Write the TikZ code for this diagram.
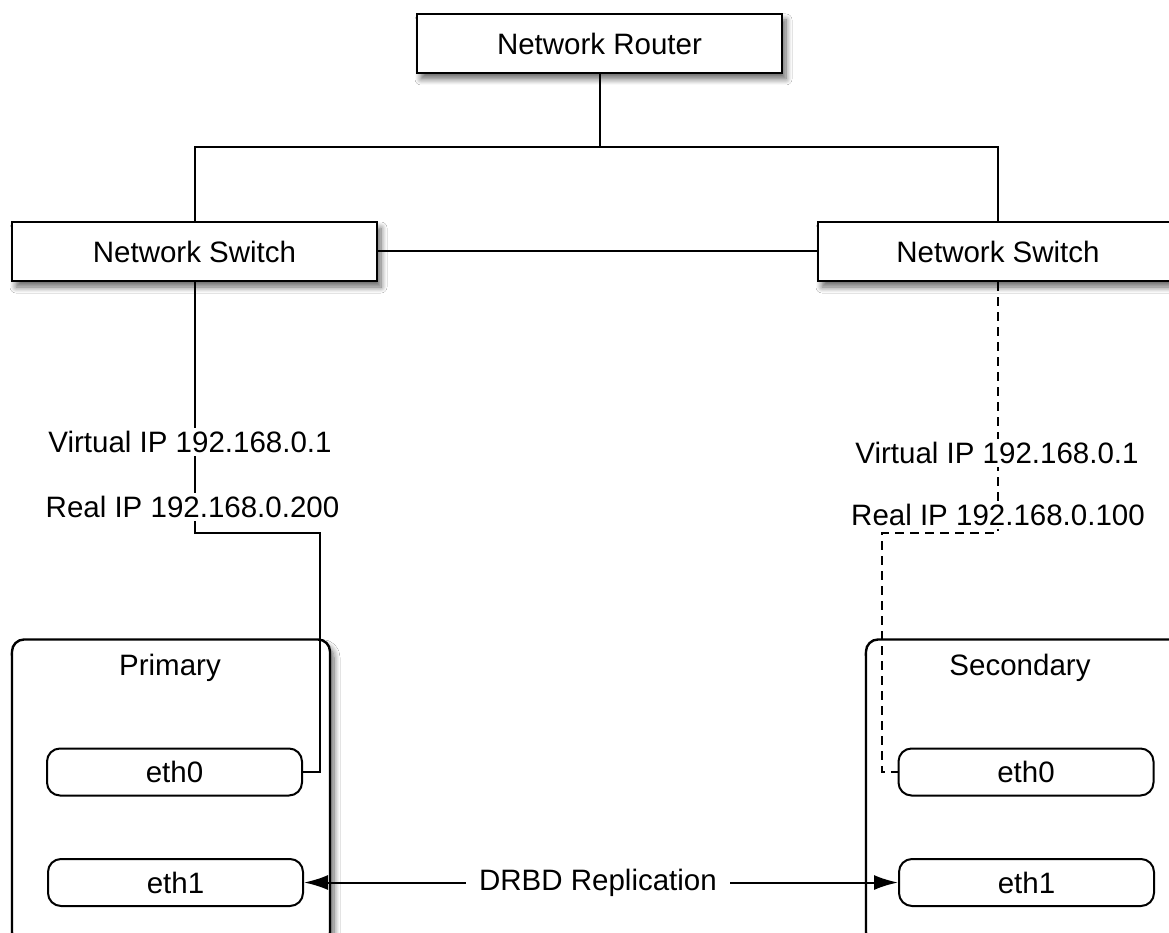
\documentclass[tikz,border=0pt]{standalone}
\usepackage{fontspec}
\setmainfont{Liberation Sans}
\usetikzlibrary{shadows.blur,arrows.meta}
\tikzset{
  shad/.style={blur shadow={shadow xshift=4pt,shadow yshift=-6pt,shadow blur steps=8,shadow opacity=60,shadow blur radius=6pt}},
  netbox/.style={draw=black,line width=2.4pt,fill=white,inner sep=0pt,minimum width=365pt,minimum height=59pt,shad},
  hostbox/.style={draw=black,line width=2.4pt,fill=white,rounded corners=12pt,inner sep=0pt,minimum width=318pt,minimum height=305pt,shad},
  ethbox/.style={draw=black,line width=2pt,fill=white,rounded corners=13pt,inner sep=0pt,minimum width=255pt,minimum height=47pt},
  conn/.style={line width=2pt},
  dconn/.style={line width=2pt,dash pattern=on 9pt off 6pt},
  iplabel/.style={fill=white,inner xsep=2pt,inner ysep=3pt},
  arr/.style={line width=2pt,-{Latex[length=24pt,width=15pt]}},
  plain/.style={inner sep=0pt}
}
\begin{document}
\begin{tikzpicture}[x=1pt,y=-1pt,font=\fontsize{29.5}{34}\selectfont]
\useasboundingbox (0,0) rectangle (1169,933);
\fill[white] (0,0) rectangle (1169,933);
% hosts
\node[hostbox] (primary) at (171,792) {};
\node[hostbox] (secondary) at (1025,792) {};
\node[plain] (ptitle) at (170,668) {Primary};
\node[plain] (stitle) at (1020,668) {Secondary};
\node[ethbox] (peth0) at (174.5,772) {eth0};
\node[ethbox] (peth1) at (175.5,882.5) {eth1};
\node[ethbox] (seth0) at (1026,772) {eth0};
\node[ethbox] (seth1) at (1026.5,882.5) {eth1};
% network
\node[netbox] (router) at (599.5,43.5) {Network Router};
\node[netbox] (lsw) at (194.5,251.5) {Network Switch};
\node[netbox,minimum width=360pt] (rsw) at (998,251.5) {Network Switch};
\coordinate (bus) at (599.5,147);
\coordinate (lc1) at (194.5,533);
\coordinate (lc2) at (320,533);
\coordinate (rc1) at (998,533);
\coordinate (rc2) at (882,533);
\draw[conn] (router.south) -- (bus);
\draw[conn] (lsw.north) |- (bus) -| (rsw.north);
\draw[conn] (lsw.east) -- (rsw.west);
\draw[conn] (lsw.south) -- (lc1) -- (lc2) |- (peth0.east);
\draw[dconn] (rsw.south) -- (rc1) -- (rc2) |- (seth0.west);
% labels
\node[iplabel] (lvip) at (190,442) {Virtual IP 192.168.0.1};
\node[iplabel] (lrip) at (192.5,507) {Real IP 192.168.0.200};
\node[iplabel] (rvip) at (997,453) {Virtual IP 192.168.0.1};
\node[iplabel] (rrip) at (998,515) {Real IP 192.168.0.100};
% replication
\node[fill=white,inner xsep=13pt,inner ysep=4pt] (drbd) at (598,882.5) {DRBD Replication};
\draw[arr] (drbd.west) -- (peth1.east);
\draw[arr] (drbd.east) -- (seth1.west);
\end{tikzpicture}
\end{document}
